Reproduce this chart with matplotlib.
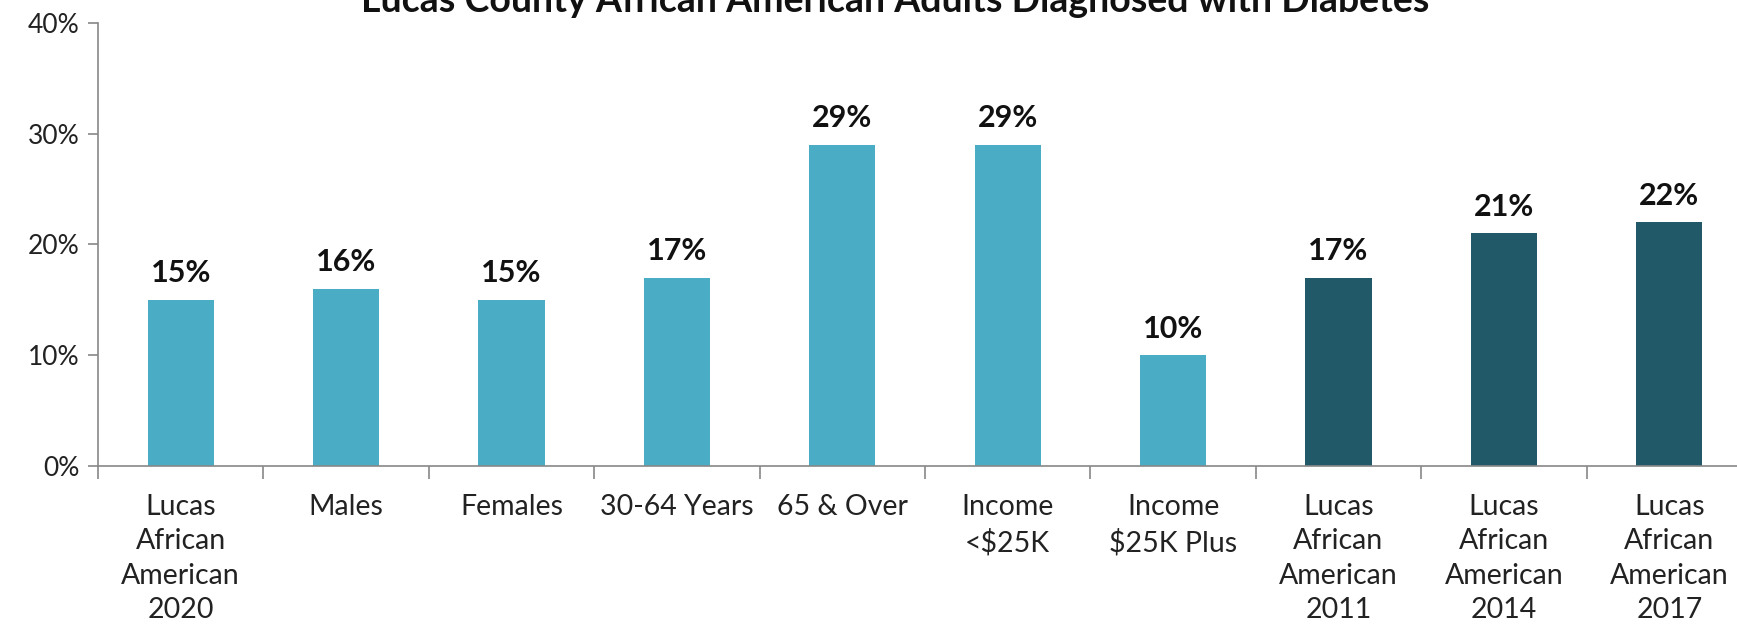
import matplotlib.pyplot as plt
import numpy as np

categories = ["Lucas\nAfrican\nAmerican\n2020", "Males", "Females", "30-64 Years", "65 & Over",
              "Income\n<$25K", "Income\n$25K Plus", "Lucas\nAfrican\nAmerican\n2011",
              "Lucas\nAfrican\nAmerican\n2014", "Lucas\nAfrican\nAmerican\n2017"]
values = [15, 16, 15, 17, 29, 29, 10, 17, 21, 22]
bar_colors = ["#4BACC6"] * 7 + ["#215968"] * 3

plt.rcParams['font.family'] = ['Lato', 'DejaVu Sans']

fig = plt.figure(figsize=(17.37, 6.25), dpi=100)
ax = fig.add_axes([98 / 1737, 1 - 466 / 625, 1654 / 1737, 443 / 625])

x = np.arange(len(categories))
ax.bar(x, values, width=0.4, color=bar_colors)
for xi, v in zip(x, values):
    ax.annotate(f"{v}%", (xi, v), xytext=(0, 9), textcoords="offset points",
                ha="center", va="bottom", fontsize=22, fontweight="bold", color="#111111")

ax.set_xlim(-0.5, len(categories) - 0.5)
ax.set_ylim(0, 40)
ax.set_yticks([0, 10, 20, 30, 40])
ax.set_yticklabels(["0%", "10%", "20%", "30%", "40%"], fontsize=19, color="#222222")
ax.set_xticks(x)
ax.set_xticklabels(categories, fontsize=20.5, color="#222222", linespacing=1.4)
ax.set_xticks(np.arange(-0.5, len(categories), 1), minor=True)
ax.tick_params(axis="x", which="major", length=0, pad=20)
ax.tick_params(axis="x", which="minor", length=9, color="#888888", width=1.2)
ax.tick_params(axis="y", length=7, color="#888888", width=1.2, pad=6)

for s in ["top", "right"]:
    ax.spines[s].set_visible(False)
for s in ["left", "bottom"]:
    ax.spines[s].set_color("#888888")
    ax.spines[s].set_linewidth(1.2)

fig.text(895 / 1737, 1 - 12 / 625, "Lucas County African American Adults Diagnosed with Diabetes",
         ha="center", va="baseline", fontsize=27, fontweight="bold", color="#111111")

fig.savefig("out.png", dpi=100)
